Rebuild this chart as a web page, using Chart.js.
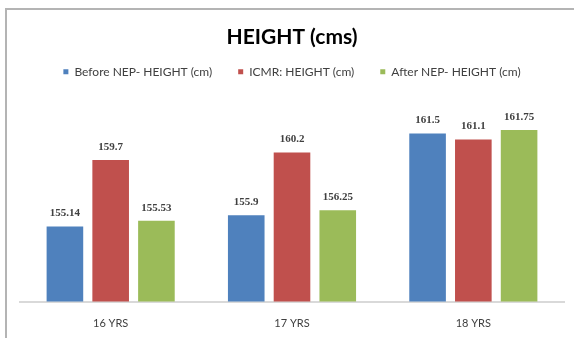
<!DOCTYPE html>
<html>
<head>
<meta charset="utf-8">
<script src="https://cdn.jsdelivr.net/npm/chart.js@4/dist/chart.umd.min.js"></script>
<style>
  html, body { margin: 0; padding: 0; background: #fff; }
  #wrap { position: relative; width: 574px; height: 338px; overflow: hidden; }
  #frame { position: absolute; left: 5px; top: 8px; width: 600px; height: 400px;
           border-left: 2px solid #b4b4b4; border-top: 2px solid #b4b4b4; pointer-events: none; }
  canvas { position: absolute; left: 0; top: 0; }
</style>
</head>
<body>
<div id="wrap">
  <canvas id="c" width="574" height="338"></canvas>
  <div id="frame"></div>
</div>
<script>
const categories = ['16 YRS', '17 YRS', '18 YRS'];
const beforeNep = [155.14, 155.9, 161.5];
const icmr = [159.7, 160.2, 161.1];
const afterNep = [155.53, 156.25, 161.75];
const seriesNames = ['Before NEP- HEIGHT (cm)', 'ICMR: HEIGHT (cm)', 'After NEP- HEIGHT (cm)'];
const yMin = 150;
const yMax = 162;

// value labels above each bar, placed from the bar elements the chart computed
const valueLabels = {
  id: 'valueLabels',
  afterDatasetsDraw(chart) {
    const ctx = chart.ctx;
    ctx.save();
    ctx.font = 'bold 11px "Liberation Serif", serif';
    ctx.fillStyle = '#404040';
    ctx.textAlign = 'center';
    ctx.textBaseline = 'middle';
    chart.data.datasets.forEach((ds, i) => {
      chart.getDatasetMeta(i).data.forEach((bar, j) => {
        ctx.fillText(String(ds.data[j]), bar.x, bar.y - 13);
      });
    });
    ctx.restore();
  }
};

new Chart(document.getElementById('c'), {
  type: 'bar',
  data: {
    labels: categories,
    datasets: [
      { label: seriesNames[0], data: beforeNep, backgroundColor: '#4F81BD' },
      { label: seriesNames[1], data: icmr, backgroundColor: '#C0504D' },
      { label: seriesNames[2], data: afterNep, backgroundColor: '#9BBB59' }
    ]
  },
  options: {
    responsive: false,
    animation: false,
    devicePixelRatio: 1,
    layout: { padding: { left: 20, right: 10, top: 8, bottom: -6.7 } },
    datasets: { bar: { categoryPercentage: 0.757, barPercentage: 0.8 } },
    scales: {
      x: {
        grid: { display: false, drawTicks: false },
        border: { display: true, color: '#d9d9d9', width: 2 },
        ticks: { color: '#404040', font: { family: 'Lato', size: 11 }, padding: 15 }
      },
      y: {
        display: false,
        min: yMin,
        max: yMax
      }
    },
    plugins: {
      title: {
        display: true,
        text: 'HEIGHT (cms)',
        color: '#000',
        font: { family: 'Lato', size: 21, weight: 'bold' },
        padding: { top: 16.4, bottom: -9.9 }
      },
      // empty subtitle used as the gap between the legend and the plot area
      subtitle: {
        display: true,
        text: '',
        weight: 900,
        font: { size: 10, lineHeight: 1 },
        padding: { top: 28.6, bottom: 0 }
      },
      legend: {
        display: true,
        labels: {
          boxWidth: 5, boxHeight: 5,
          color: '#404040',
          font: { family: 'Lato', size: 12 },
          padding: 26
        }
      },
      tooltip: { enabled: false }
    }
  },
  plugins: [valueLabels]
});
</script>
</body>
</html>
